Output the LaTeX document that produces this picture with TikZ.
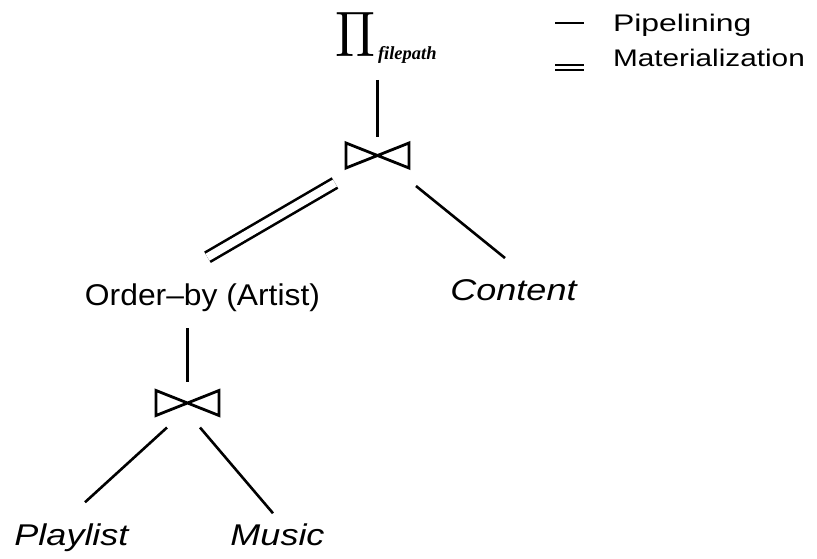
\documentclass[tikz,border=0pt]{standalone}
\usepackage{fontspec}
\setmainfont{Liberation Sans}
\newfontfamily\subserif{Liberation Serif}
\usepackage{graphicx}
\usetikzlibrary{calc}

% text looks: operator labels, relation names (italic) and legend entries
\newcommand\optext[1]{\scalebox{1.06}[1]{\fontsize{30}{36}\selectfont #1}}
\newcommand\reltext[1]{\scalebox{1.2}[1]{\fontsize{30}{36}\selectfont\itshape #1}}
\newcommand\keytext[2][1.33]{\scalebox{#1}[1]{\fontsize{24}{28}\selectfont #2}}

\begin{document}
\begin{tikzpicture}[x=1pt,y=-1pt,
  every node/.style={inner sep=0pt, outer sep=0pt},
  pipe/.style={line width=2.6pt},
  mat/.style={line width=2.6pt, double, double distance=8pt},
  keyline/.style={line width=2.4pt},
  joinop/.style={minimum width=63pt, minimum height=25pt},
  tie/.style={line width=2.8pt, line join=miter},
]
\useasboundingbox (0,0) rectangle (817,559);

% projection on top
\node (proj) [anchor=south west] at (335,57) {\resizebox{40pt}{44pt}{$\Pi$}};
\node (sub) [anchor=base west] at (378,60) {\fontsize{18.5}{20}\selectfont\subserif\bfseries\itshape filepath};

% operators and relations
\node (j1) [joinop] at (377.5,155.5) {};
\node (order) [anchor=base] at (202.5,305) {\optext{Order--by (Artist)}};
\node (content) [anchor=base] at (513.5,300) {\reltext{Content}};
\node (j2) [joinop] at (187.5,403) {};
\node (playlist) [anchor=base] at (71.5,545) {\reltext{Playlist}};
\node (music) [anchor=base] at (277.5,545) {\reltext{Music}};

% bow-tie join symbols
\foreach \n in {j1,j2}
  \draw[tie] (\n.north west) -- (\n.south east) -- (\n.north east) -- (\n.south west) -- cycle;

% plan edges
\draw[pipe, shorten <=23pt, shorten >=6pt] (j1.north |- proj.south) -- (j1.north);
\draw[mat] ([shift={(-11,15)}]j1.south west) -- ([shift={(5,-26)}]order.north);
\draw[pipe] ([shift={(7,18)}]j1.south east) -- ([shift={(-8.5,-21)}]content.north);
\draw[pipe, shorten <=17pt, shorten >=8.5pt] (j2.north |- order.south) -- (j2.north);
\draw[pipe] ([shift={(-20.5,12)}]j2.south) -- ([shift={(13.5,-21)}]playlist.north);
\draw[pipe] ([shift={(12.5,12)}]j2.south) -- ([shift={(-4.5,-10)}]music.north);

% legend
\node (pipekey) [anchor=base west] at (613,32) {\keytext{Pipelining}};
\node (matkey) [anchor=base west] at (613,67) {\keytext[1.24]{Materialization}};
\coordinate (pipeA) at (555,23);
\coordinate (pipeB) at (584,23);
\coordinate (matA) at (555,67.5);
\coordinate (matB) at (584,67.5);
\draw[keyline] (pipeA) -- (pipeB);
\draw[keyline, line width=2pt, double, double distance=3.5pt] (matA) -- (matB);
\end{tikzpicture}
\end{document}
